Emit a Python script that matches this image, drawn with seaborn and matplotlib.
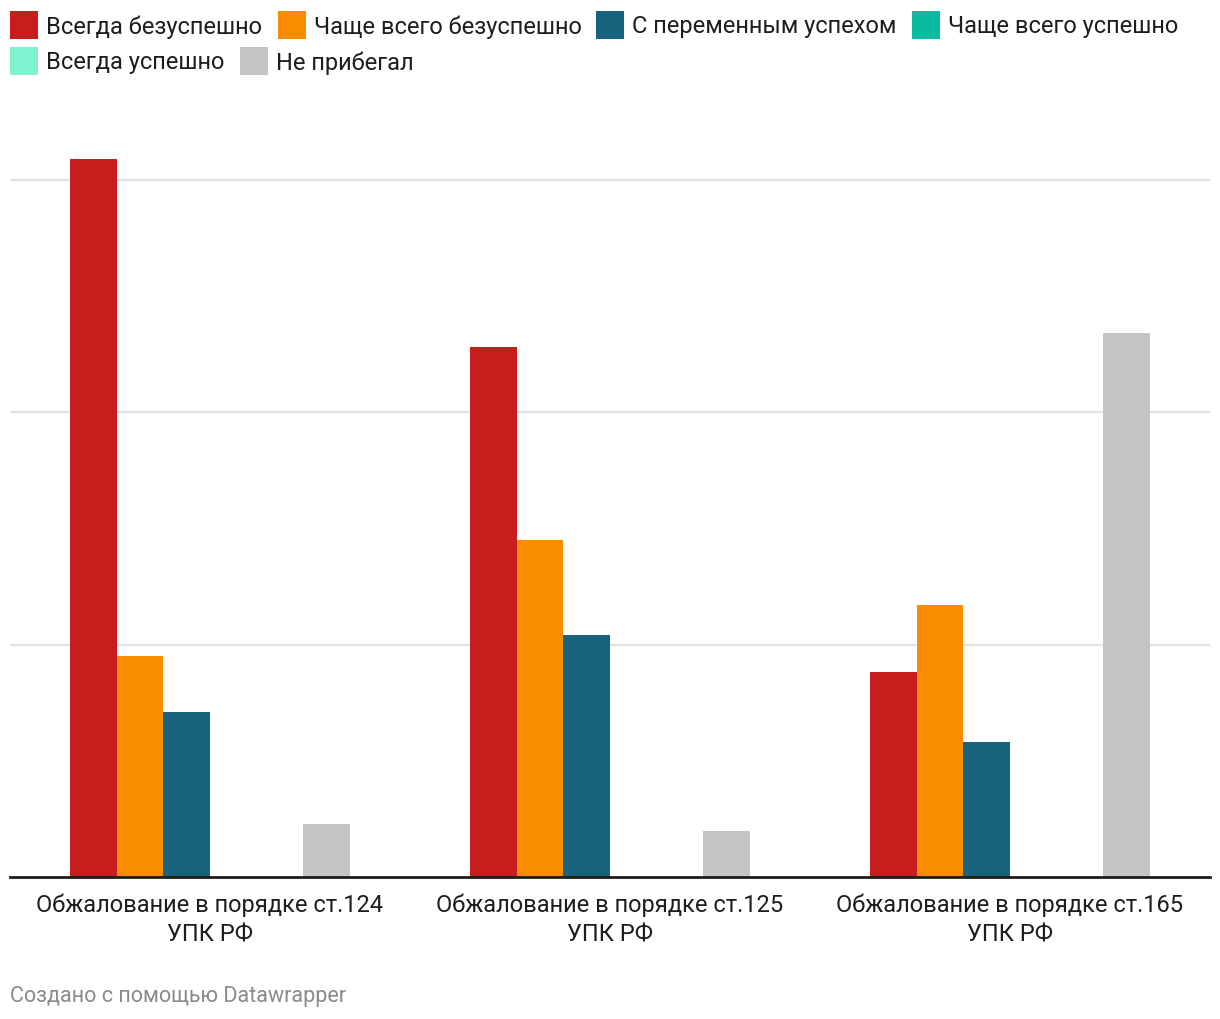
import matplotlib
matplotlib.use("Agg")
import matplotlib.pyplot as plt
from matplotlib.patches import Rectangle
import pandas as pd
import seaborn as sns

# ── DATA ──────────────────────────────────────────────────────────────────────
categories = [
    "Обжалование в порядке ст.124\nУПК РФ",
    "Обжалование в порядке ст.125\nУПК РФ",
    "Обжалование в порядке ст.165\nУПК РФ",
]
series = ["Всегда безуспешно", "Чаще всего безуспешно", "С переменным успехом",
          "Чаще всего успешно", "Всегда успешно", "Не прибегал"]
always_fail   = [30.9, 22.8, 8.8]
mostly_fail   = [9.5, 14.5, 11.7]
mixed         = [7.1, 10.4, 5.8]
mostly_ok     = [0, 0, 0]
always_ok     = [0, 0, 0]
never_used    = [2.3, 2.0, 23.4]

colors = ["#c71e1d", "#fa8c00", "#18627e", "#09bb9f", "#81f2cf", "#c4c4c4"]

values = [always_fail, mostly_fail, mixed, mostly_ok, always_ok, never_used]
df = pd.DataFrame([
    {"category": c, "series": s, "value": v}
    for s, vals in zip(series, values)
    for c, v in zip(categories, vals)
])

# ── STYLE ─────────────────────────────────────────────────────────────────────
sns.set_theme(style="white")
plt.rcParams["font.family"] = ["Roboto", "DejaVu Sans"]

W, H = 1220, 1020
fig = plt.figure(figsize=(W / 100, H / 100), dpi=100, facecolor="white")

# axes: x 10..1210 px, y 140..877 px
ax = fig.add_axes([10 / W, (H - 878) / H, 1200 / W, (878 - 140) / H])

sns.barplot(data=df, x="category", y="value", hue="series",
            palette=colors, hue_order=series, order=categories,
            width=0.7, gap=0, linewidth=0, saturation=1,
            legend=False, ax=ax)

ax.set_xlim(-0.5, 2.5)
ax.set_ylim(0, 31.75)
ax.set_yticks([10, 20, 30])
ax.yaxis.grid(True, color="#e3e3e3", linewidth=1.6)
ax.set_axisbelow(True)
ax.tick_params(axis="y", left=False, labelleft=False)
ax.tick_params(axis="x", bottom=False, pad=5, labelsize=17, colors="#1d1d1d")
for lbl in ax.get_xticklabels():
    lbl.set_linespacing(1.35)
ax.set_xlabel("")
ax.set_ylabel("")
for side in ["top", "left", "right"]:
    ax.spines[side].set_visible(False)
ax.spines["bottom"].set_color("#1d1d1d")
ax.spines["bottom"].set_linewidth(2)

# ── LEGEND (flow layout, like Datawrapper) ────────────────────────────────────
legend_pos = [(10, 12), (278, 12), (596, 12), (912, 12), (10, 48), (240, 48)]
sq = 28
for (px, py), name, col in zip(legend_pos, series, colors):
    fig.add_artist(Rectangle((px / W, 1 - (py + sq) / H), sq / W, sq / H,
                             transform=fig.transFigure, color=col, lw=0))
    fig.text((px + sq + 8) / W, 1 - (py + sq / 2 + 1) / H, name,
             ha="left", va="center", fontsize=17, color="#1d1d1d")

fig.text(10 / W, 1 - 997 / H, "Создано с помощью Datawrapper",
         ha="left", va="center", fontsize=15.5, color="#8a8a8a")

fig.savefig("out.png", dpi=100, facecolor="white")
